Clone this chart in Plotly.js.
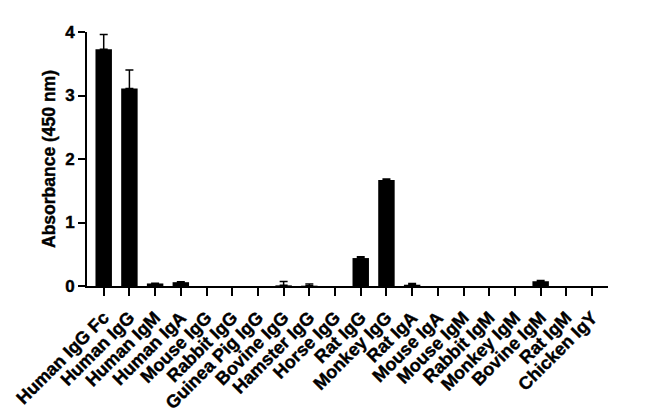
<!DOCTYPE html>
<html>
<head>
<meta charset="utf-8">
<script src="https://cdn.plot.ly/plotly-3.0.1.min.js"></script>
<style>
html,body{margin:0;padding:0;background:#fff}
#chart{width:650px;height:418px}
/* the reference lettering is heavier than plain bold */
#chart .xtick text, #chart .ytick text, #chart .ytitle{stroke:#000;stroke-width:0.4px}
</style>
</head>
<body>
<div id="chart"></div>
<script>
// antibody species / isotypes on the x axis
const samples = ['Human IgG Fc', 'Human IgG', 'Human IgM', 'Human IgA', 'Mouse IgG', 'Rabbit IgG',
  'Guinea Pig IgG', 'Bovine IgG', 'Hamster IgG', 'Horse IgG', 'Rat IgG', 'Monkey IgG', 'Rat IgA',
  'Mouse IgA', 'Mouse IgM', 'Rabbit IgM', 'Monkey IgM', 'Bovine IgM', 'Rat IgM', 'Chicken IgY'];
// mean absorbance at 450 nm
const absorbance = [3.73, 3.11, 0.04, 0.06, 0, 0, 0, 0.01, 0.005, 0, 0.44, 1.67, 0.02, 0, 0, 0, 0, 0.075, 0, 0];
// upper error (SD)
const errUp = [0.23, 0.29, 0.005, 0.005, 0, 0, 0, 0.06, 0.025, 0, 0.02, 0.015, 0.02, 0, 0, 0, 0, 0.01, 0, 0];
const yTicks = [0, 1, 2, 3, 4];

const font = {family: 'Liberation Sans, Arial, sans-serif', color: '#000'};
const bold = s => '<b>' + s + '</b>';

// zero readings leave no mark at all (no sliver, no cap)
const yShown = absorbance.map(v => (v === 0 ? null : v));

Plotly.newPlot('chart', [{
  x: samples, y: yShown, type: 'bar',
  width: 0.64,
  marker: {color: '#000'},
  error_y: {type: 'data', array: errUp, arrayminus: samples.map(() => 0), symmetric: false,
    color: '#000', thickness: 1.5, width: 4}
}], {
  width: 650, height: 418,
  margin: {l: 87, r: 42, t: 32, b: 132},
  paper_bgcolor: '#fff', plot_bgcolor: '#fff',
  showlegend: false,
  xaxis: {
    range: [-0.65, 19.62],
    tickangle: -45,
    tickvals: samples, ticktext: samples.map(bold),
    ticks: 'outside', ticklen: 8, tickwidth: 2, tickcolor: '#000',
    ticklabelstandoff: 4,
    showline: true, linewidth: 2, linecolor: '#000',
    showgrid: false, zeroline: false,
    tickfont: {...font, size: 18}
  },
  yaxis: {
    range: [0, 4],
    tickvals: yTicks, ticktext: yTicks.map(bold),
    ticks: 'outside', ticklen: 7, tickwidth: 2, tickcolor: '#000',
    showline: true, linewidth: 2, linecolor: '#000',
    showgrid: false, zeroline: false,
    tickfont: {...font, size: 17},
    title: {text: bold('Absorbance (450 nm)'), font: {...font, size: 17.5}, standoff: 5}
  }
}, {displayModeBar: false, staticPlot: true});
</script>
</body>
</html>
